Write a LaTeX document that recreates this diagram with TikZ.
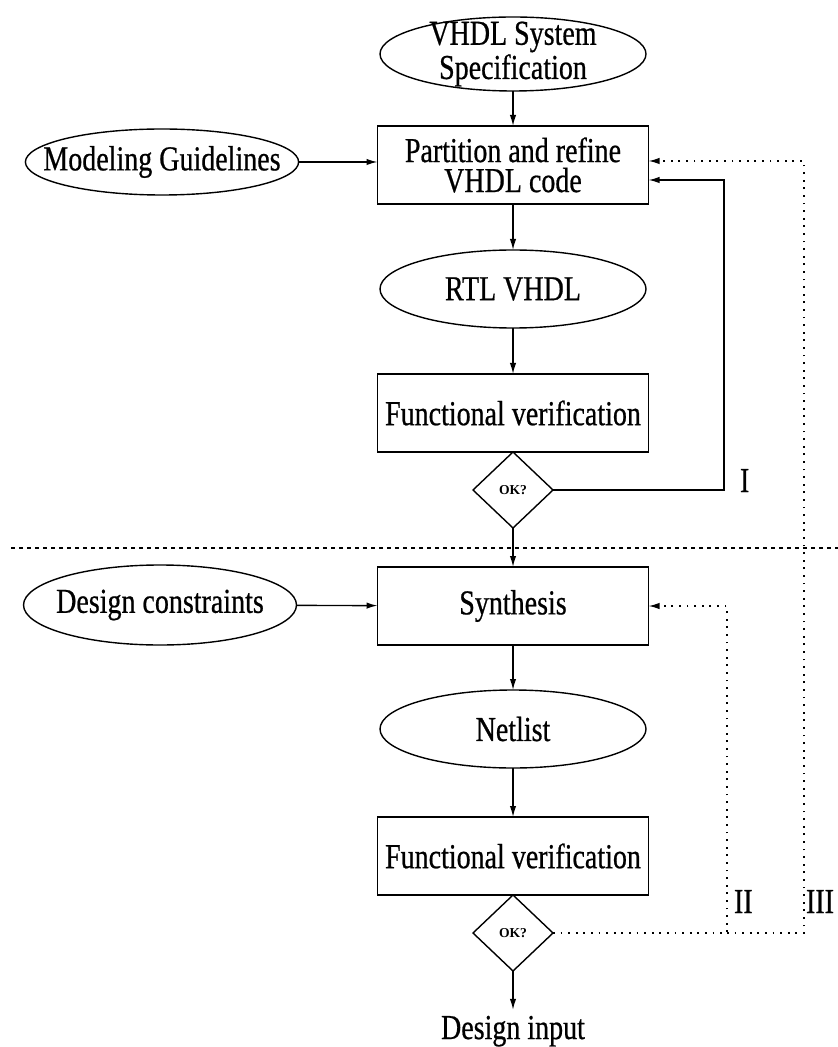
\documentclass[tikz,border=0pt]{standalone}
\usepackage{fontspec}
\setmainfont{Liberation Serif}[FakeStretch=0.8, FakeBold=0.6]
\newfontfamily\okfont{Liberation Serif}
\usetikzlibrary{shapes.geometric,arrows.meta}

\begin{document}
\begin{tikzpicture}[x=0.5pt, y=-0.5pt, line width=0.7pt,
    every node/.style={draw=black, outer sep=0pt, inner sep=0pt, align=center,
      font=\fontsize{17.5}{15}\selectfont},
    box/.style={rectangle, minimum width=135.5pt, minimum height=39pt},
    blob/.style={ellipse, minimum width=133pt, minimum height=39pt},
    decision/.style={diamond, minimum width=40pt, minimum height=38pt,
      font=\okfont\bfseries\fontsize{6.8}{8}\selectfont},
    tag/.style={draw=none, anchor=base west},
    flow/.style={-{Latex[length=5.5pt,width=3.2pt]}},
    back/.style={flow, dash pattern=on 0.9pt off 2.9pt}]
  \useasboundingbox (0,0) rectangle (838,1047);

  % Nivel de sistema
  \node[blob, inner sep=-5pt, minimum height=37pt, font=\fontsize{17.5}{13}\selectfont] (spec) at (513,54) {VHDL System\\Specification};
  \node[blob, inner xsep=-11pt, minimum width=136.5pt, minimum height=33pt] (mg) at (162,162) {Modeling Guidelines};
  \node[box] (part) at (513,165) {Partition and refine\\VHDL code};
  \node[blob] (rtl) at (513,289) {RTL VHDL};
  \node[box] (fv1) at (513,413) {Functional verification};
  \node[decision] (ok1) at (513,490) {OK?};

  % Nivel de puertas
  \node[blob, inner xsep=-4pt, minimum width=136.5pt, minimum height=40pt] (dc) at (160,605) {Design constraints};
  \node[box] (syn) at (513,606) {Synthesis};
  \node[blob] (net) at (513,729) {Netlist};
  \node[box] (fv2) at (513,856) {Functional verification};
  \node[decision] (ok2) at (513,933) {OK?};
  \node[draw=none, anchor=base, inner sep=3pt] (out) at (513,1039) {Design input};

  % Esquinas de los lazos
  \coordinate (r1) at (724,490);
  \coordinate (r2) at (727,933);
  \coordinate (r3) at (804,933);

  % Flujo principal
  \draw[flow] (spec) -- (part);
  \draw[flow] (mg.east) -- (mg.east -| part.west);
  \draw[flow] (part) -- (rtl);
  \draw[flow] (rtl) -- (fv1);
  \draw[flow] (ok1) -- (syn);
  \draw[flow] (dc) -- (syn);
  \draw[flow] (syn) -- (net);
  \draw[flow] (net) -- (fv2);
  \draw[flow] (ok2) -- (out);

  % Lazos de realimentacion
  \draw[flow] (ok1.east) -- (r1) |- ([yshift=-7.5pt]part.east);
  \draw[back] (ok2.east) -- (r2) |- (syn.east);
  \draw[back] (r2) -- (r3) |- ([yshift=2pt]part.east);

  % Separacion entre niveles
  \draw[dash pattern=on 2pt off 2pt] (11,548) -- (838,548);

  \node[tag] (t1) at (740,492) {I};
  \node[tag] (t2) at (734,913) {II};
  \node[tag] (t3) at (806,913) {III};
\end{tikzpicture}
\end{document}
